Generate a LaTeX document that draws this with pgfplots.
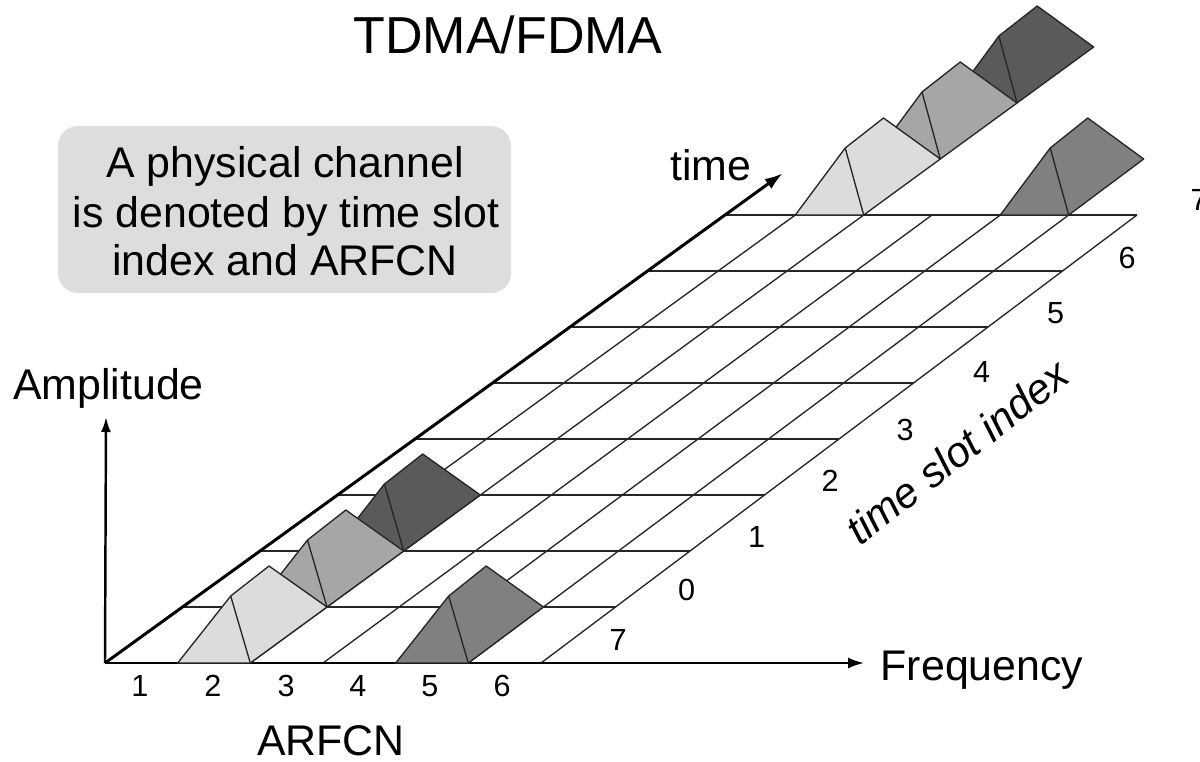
\documentclass[border=0pt]{standalone}
\usepackage{pgfplots}
\pgfplotsset{compat=1.18}
\usepackage{fontspec}
\setmainfont{Liberation Sans}
\usetikzlibrary{arrows.meta}

\definecolor{boxgray}{RGB}{221,221,221}
\definecolor{burstlight}{RGB}{220,220,220}
\definecolor{burstmid}{RGB}{166,166,166}
\definecolor{burstdark}{RGB}{92,89,89}
\definecolor{burstfive}{RGB}{128,128,128}

\tikzset{
  gridline/.style={black!85, line width=0.38pt},
  burst/.style={draw=black!85, line width=0.38pt, line join=round},
  big/.style={font=\fontsize{12.2}{14}\selectfont, inner sep=0pt, anchor=base},
  digit/.style={font=\fontsize{8.7}{10}\selectfont, inner sep=0pt},
}

\begin{document}
\begin{tikzpicture}
\begin{axis}[
    width=12cm, height=7.61cm, scale only axis,
    xmin=0, xmax=1200, ymin=0, ymax=761, y dir=reverse,
    hide axis, clip=false,
    every axis plot/.append style={no markers},
  ]
  % note box
  \addplot[draw=none, fill=boxgray, rounded corners=2mm]
    coordinates {(58,126) (511,126) (511,293) (58,293)} -- cycle;

  % rows of the time/frequency grid
  \addplot[gridline] coordinates {(182.75,607) (615.5,607)};
  \addplot[gridline] coordinates {(260.5,551) (690.0,551)};
  \addplot[gridline] coordinates {(338.25,495) (764.5,495)};
  \addplot[gridline] coordinates {(416.0,439) (839.0,439)};
  \addplot[gridline] coordinates {(493.75,383) (913.5,383)};
  \addplot[gridline] coordinates {(571.5,327) (988.0,327)};
  \addplot[gridline] coordinates {(649.25,271) (1062.5,271)};
  \addplot[gridline] coordinates {(727.0,215) (1137.0,215)};
  % ARFCN columns
  \addplot[gridline] coordinates {(177.67,663) (795.33,215)};
  \addplot[gridline] coordinates {(250.33,663) (863.67,215)};
  \addplot[gridline] coordinates {(323.0,663) (932.0,215)};
  \addplot[gridline] coordinates {(395.67,663) (1000.33,215)};
  \addplot[gridline] coordinates {(468.33,663) (1068.67,215)};
  \addplot[gridline] coordinates {(541.0,663) (1137.0,215)};

  % axes
  \addplot[black, line width=0.85pt, -{Latex[length=1.8mm,width=1.2mm]}]
    coordinates {(105,663) (782.7,173.3)};
  \addplot[black, line width=0.6pt, -{Latex[length=1.6mm,width=1.1mm]}]
    coordinates {(105,663) (864,663)};
  \addplot[black, line width=0.7pt, -{Latex[length=1.5mm,width=1.0mm]}]
    coordinates {(105,663) (106,417)};

  % bursts, next frame (top), back to front
  \addplot[burst, fill=burstdark]
    coordinates {(949.8,103) (998.9,36) (1037.2,6) (1093.7,47) (1017.0,103)} -- cycle;
  \addplot[burst] coordinates {(998.9,36) (1017.0,103)};
  \addplot[burst, fill=burstmid]
    coordinates {(872.6,159) (922.0,92) (960.3,62) (1017.0,103) (940.3,159)} -- cycle;
  \addplot[burst] coordinates {(922.0,92) (940.3,159)};
  \addplot[burst, fill=burstlight]
    coordinates {(795.3,215) (845.2,148) (883.5,118) (940.3,159) (863.7,215)} -- cycle;
  \addplot[burst] coordinates {(845.2,148) (863.7,215)};
  \addplot[burst, fill=burstfive]
    coordinates {(1000.3,215) (1050.2,148) (1087.7,118) (1143.7,159) (1068.7,215)} -- cycle;
  \addplot[burst] coordinates {(1050.2,148) (1068.7,215)};

  % bursts, current frame (bottom), back to front
  \addplot[burst, fill=burstdark]
    coordinates {(332.1,551) (384.4,484) (422.7,454) (480.3,495) (403.7,551)} -- cycle;
  \addplot[burst] coordinates {(384.4,484) (403.7,551)};
  \addplot[burst, fill=burstmid]
    coordinates {(254.9,607) (307.5,540) (345.8,510) (403.7,551) (327.0,607)} -- cycle;
  \addplot[burst] coordinates {(307.5,540) (327.0,607)};
  \addplot[burst, fill=burstlight]
    coordinates {(177.7,663) (230.7,596) (269.0,566) (327.0,607) (250.3,663)} -- cycle;
  \addplot[burst] coordinates {(230.7,596) (250.3,663)};
  \addplot[burst, fill=burstfive]
    coordinates {(395.7,663) (448.7,596) (486.2,566) (543.4,607) (468.3,663)} -- cycle;
  \addplot[burst] coordinates {(448.7,596) (468.3,663)};

  % texts
  \node[big, font=\fontsize{14.8}{17}\selectfont] at (axis cs:508,53) {TDMA/FDMA};
  \node[big] at (axis cs:285,177) {A physical channel};
  \node[big] at (axis cs:286,227) {is denoted by time slot};
  \node[big] at (axis cs:285,275) {index and ARFCN};
  \node[big] at (axis cs:711,180) {time};
  \node[big] at (axis cs:108.5,399) {Amplitude};
  \node[big] at (axis cs:982,680) {Frequency};
  \node[big] at (axis cs:331,755) {ARFCN};
  \node[font=\fontsize{12}{14}\selectfont\itshape, inner sep=0pt, rotate=38]
    at (axis cs:957,452) {time slot index};

  % ARFCN numbers
  \node[digit, anchor=base] at (axis cs:140,696) {1};
  \node[digit, anchor=base] at (axis cs:213,696) {2};
  \node[digit, anchor=base] at (axis cs:286,696) {3};
  \node[digit, anchor=base] at (axis cs:358,696) {4};
  \node[digit, anchor=base] at (axis cs:430,696) {5};
  \node[digit, anchor=base] at (axis cs:502,696) {6};
  % time slot numbers
  \node[digit] at (axis cs:618,640) {7};
  \node[digit] at (axis cs:686.5,590) {0};
  \node[digit] at (axis cs:756.7,537) {1};
  \node[digit] at (axis cs:830,481) {2};
  \node[digit] at (axis cs:905,430) {3};
  \node[digit] at (axis cs:981.5,372) {4};
  \node[digit] at (axis cs:1055.6,313) {5};
  \node[digit] at (axis cs:1127,258) {6};
  \node[digit] at (axis cs:1199,200) {7};
\end{axis}
\pgfresetboundingbox
\path[use as bounding box] (0,0) rectangle (12cm,7.61cm);
\end{tikzpicture}
\end{document}
